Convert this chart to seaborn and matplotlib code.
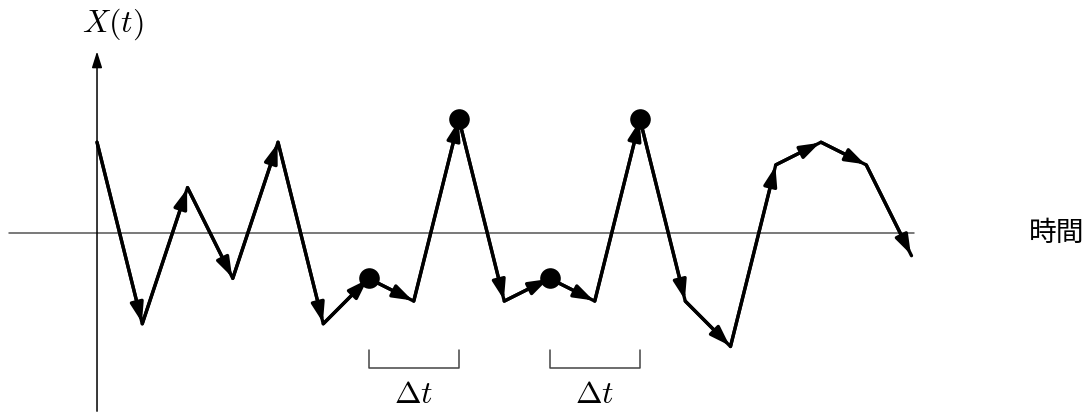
import numpy as np
import pandas as pd
import seaborn as sns
import matplotlib as mpl
from matplotlib import pyplot as plt

sns.set_theme(style="white")
plt.rcParams['mathtext.fontset'] = 'cm'
plt.rcParams['font.family'] = ['Noto Sans CJK JP', 'DejaVu Sans']

# random walk X(t), one value per time step
steps = list(range(19))
values = [4, -4, 2, -2, 4, -4, -2, -3, 5, -3, -2, -3, 5, -3, -5, 3, 4, 3, -1]
# marked points and the two Δt intervals
marked = [6, 8, 10, 12]
intervals = [(6, 8), (10, 12)]
ylabel = "$X(t)$"
xlabel = "時間"
dt_label = r"$\Delta t$"

df = pd.DataFrame({'t': steps, 'X': values})

fig = plt.figure(figsize=(10.9, 4.12), dpi=100)
ax = fig.add_axes([0, 0, 1, 1])
ax.set_xlim(-2.144, 21.945)
ax.set_ylim(-7.885, 10.264)
ax.axis('off')

# axes of the diagram
ax.plot([-1.95, 18.05], [0, 0], color='#555555', lw=1.1, zorder=1)
ax.annotate('', xy=(0, 8.0), xytext=(0, -7.85),
            arrowprops=dict(arrowstyle='-|>,head_length=0.7,head_width=0.22',
                            mutation_scale=14, color='black', lw=1.1,
                            shrinkA=0, shrinkB=0))
ax.text(0.35, 9.2, ylabel, fontsize=23, ha='center', va='center', color='black')
ax.text(21.2, 0, xlabel, fontsize=20, ha='center', va='center', color='black')

sns.lineplot(data=df, x='t', y='X', color='black', lw=2.4, ax=ax,
             legend=False, zorder=3)

# arrowheads at the end of each step
for i in range(len(steps) - 1):
    ax.annotate('', xy=(steps[i + 1], values[i + 1]), xytext=(steps[i], values[i]),
                arrowprops=dict(arrowstyle='-|>,head_length=0.65,head_width=0.22',
                                mutation_scale=18, color='black', lw=2.4,
                                shrinkA=0, shrinkB=1), zorder=4)

dots = df.iloc[marked]
sns.scatterplot(data=dots, x='t', y='X', color='black', s=220, ax=ax,
                edgecolor='black', linewidth=0, zorder=5, legend=False)

for a, b in intervals:
    ax.plot([a, a, b, b], [-5.15, -5.95, -5.95, -5.15], color='#444444', lw=1.1)
    ax.text((a + b) / 2, -7.1, dt_label, fontsize=23, ha='center', va='center',
            color='black')

plt.savefig('out.png', dpi=100)
